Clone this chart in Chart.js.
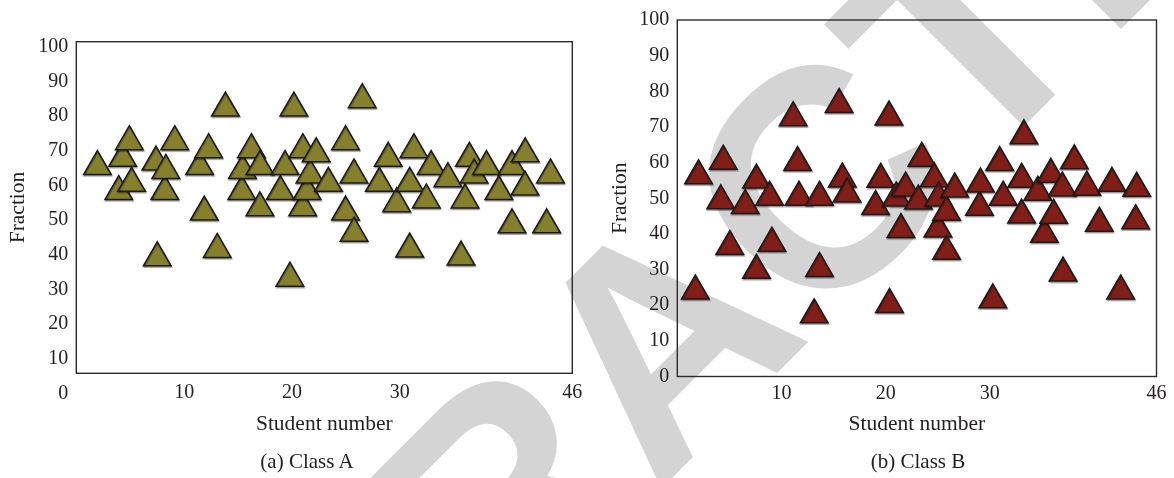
<!DOCTYPE html>
<html>
<head>
<meta charset="utf-8">
<script src="https://cdn.jsdelivr.net/npm/chart.js@4"></script>
<style>
  html, body { margin: 0; padding: 0; background: #ffffff; }
  #figure { position: relative; width: 1174px; height: 478px; overflow: hidden; background: #ffffff; }
  #figure canvas { position: absolute; top: 0; }
  #stamp { left: 0; }
  #chartA { left: 0; }
  #chartB { left: 590px; }
  .caption {
    position: absolute; top: 449px; width: 300px; text-align: center; line-height: 24px;
    font-family: "Liberation Serif", "Times New Roman", serif; font-size: 21px; color: #231f20;
  }
</style>
</head>
<body>
<div id="figure">
  <canvas id="stamp" width="1174" height="478"></canvas>
  <canvas id="chartA" width="590" height="440"></canvas>
  <canvas id="chartB" width="584" height="440"></canvas>
  <div class="caption" style="left:157px">(a) Class A</div>
  <div class="caption" style="left:768px">(b) Class B</div>
</div>
<script>
// Tick labels
const studentTicks = [10, 20, 30, 46];
const fractionTicks = [0, 10, 20, 30, 40, 50, 60, 70, 80, 90, 100];

// Class A: student number and fraction of each marker
const classAStudent = [1.96, 3.94, 4.30, 4.92, 5.13, 7.39, 7.51, 8.21, 8.30, 9.13,
  11.44, 11.87, 12.27, 13.07, 13.83, 15.35, 15.41, 16.24, 17.03, 17.03,
  18.93, 19.36, 19.81, 20.18, 21.01, 21.00, 21.40, 21.67, 22.25, 23.38,
  24.97, 24.97, 25.75, 25.76, 26.52, 28.11, 28.93, 29.71, 30.92, 30.92,
  31.31, 32.46, 32.91, 34.46, 35.68, 36.05, 36.46, 36.89, 38.04, 39.19,
  40.41, 40.41, 41.63, 41.61, 43.62, 43.98];
const classAFraction = [65.4, 58.2, 67.8, 72.6, 60.6, 66.7, 39.1, 58.2, 64.3, 72.6,
  65.4, 52.3, 70.3, 41.5, 82.3, 58.2, 64.3, 70.3, 65.4, 53.5,
  58.2, 65.4, 33.2, 82.3, 70.3, 53.5, 58.2, 63.0, 69.1, 60.6,
  72.6, 52.3, 63.0, 46.2, 84.7, 60.6, 67.8, 54.7, 60.6, 41.6,
  70.3, 55.8, 65.4, 61.9, 39.3, 55.8, 67.8, 63.0, 65.4, 58.2,
  65.4, 48.6, 69.1, 59.5, 48.6, 63.0];

// Class B: student number and fraction of each marker
const classBStudent = [1.73, 2.04, 4.17, 4.41, 5.04, 6.52, 7.60, 7.60, 8.86, 9.08,
  11.12, 11.55, 11.68, 13.14, 13.65, 13.65, 15.53, 15.84, 16.29, 19.03,
  19.53, 20.32, 20.37, 21.02, 21.47, 21.91, 23.14, 23.47, 24.66, 25.02,
  25.07, 25.85, 25.85, 26.63, 29.01, 29.10, 30.29, 30.95, 31.28, 33.06,
  33.05, 33.27, 34.61, 35.24, 35.86, 36.13, 36.96, 37.03, 38.11, 39.31,
  40.51, 41.72, 42.56, 44.00, 44.10];
const classBFraction = [24.0, 56.3, 49.3, 60.4, 36.5, 48.0, 55.1, 29.8, 50.3, 37.4,
  72.6, 60.0, 50.3, 17.3, 50.3, 30.3, 76.3, 55.4, 51.2, 47.7,
  55.3, 72.8, 20.2, 50.1, 41.2, 52.9, 49.2, 61.2, 55.5, 41.4,
  50.1, 46.1, 35.1, 52.6, 47.5, 54.0, 21.5, 60.0, 50.3, 55.3,
  45.3, 67.5, 51.7, 39.9, 56.7, 45.2, 52.9, 29.0, 60.5, 53.1,
  43.0, 54.2, 24.0, 43.7, 52.8];

const serif = '"Liberation Serif", "Times New Roman", serif';
const textColor = '#231f20';

// Large diagonal stamp lettering behind both panels
(function drawStamp() {
  const ctx = document.getElementById('stamp').getContext('2d');
  const word = 'RETRACTED';
  ctx.save();
  ctx.font = 'bold 310px "Liberation Sans", Arial, sans-serif';
  ctx.fillStyle = '#d4d4d4';
  ctx.translate(735, 415);
  ctx.rotate(-Math.PI / 4);
  const lead = ctx.measureText('RETR').width + ctx.measureText('A').width / 2;
  ctx.fillText(word, -lead, 0);
  ctx.restore();
})();

// Thin box around the plotting area plus a soft shadow under the markers
const framePlugin = {
  id: 'frameBox',
  beforeDatasetsDraw(chart) {
    const {ctx, chartArea: a} = chart;
    ctx.save();
    ctx.strokeStyle = '#2b2b2b';
    ctx.lineWidth = 1.4;
    ctx.strokeRect(a.left, a.top, a.right - a.left, a.bottom - a.top);
    ctx.restore();
    ctx.save();
    ctx.shadowColor = 'rgba(0,0,0,0.30)';
    ctx.shadowOffsetX = 0.5;
    ctx.shadowOffsetY = 1.5;
    ctx.shadowBlur = 1;
  },
  afterDatasetsDraw(chart) {
    chart.ctx.restore();
  }
};

function buildChart(canvasId, xs, ys, fill, geo) {
  const points = xs.map((x, i) => ({x: x, y: ys[i]}));
  return new Chart(document.getElementById(canvasId), {
    type: 'scatter',
    data: {
      datasets: [{
        data: points,
        pointStyle: 'triangle',
        pointRadius: 16,
        pointHoverRadius: 16,
        backgroundColor: fill,
        borderColor: '#1a1a1a',
        borderWidth: 1.5
      }]
    },
    options: {
      responsive: false,
      animation: false,
      events: [],
      layout: {padding: geo.padding},
      plugins: {legend: {display: false}, tooltip: {enabled: false}},
      scales: {
        x: {
          type: 'linear',
          min: 0,
          max: 46,
          grid: {display: false, drawTicks: false},
          border: {display: false},
          afterBuildTicks: (s) => { s.ticks = studentTicks.map(v => ({value: v})); },
          afterFit: (s) => { s.height = geo.xHeight; },
          ticks: {
            autoSkip: false, maxRotation: 0, padding: geo.xPad,
            font: {family: serif, size: 20}, color: textColor,
            callback: (v) => String(v)
          },
          title: {
            display: true, text: 'Student number', color: textColor,
            font: {family: serif, size: 21.5}, padding: {top: 0, bottom: 3.2}
          }
        },
        y: {
          type: 'linear',
          min: geo.yMin,
          max: geo.yMax,
          grid: {display: false, drawTicks: false},
          border: {display: false},
          afterBuildTicks: (s) => { s.ticks = fractionTicks.map(v => ({value: v})); },
          afterFit: (s) => { s.width = geo.yWidth; },
          ticks: {
            autoSkip: false, padding: 8,
            font: {family: serif, size: 20}, color: textColor,
            callback: (v) => String(v)
          },
          title: {
            display: true, text: 'Fraction', color: textColor,
            font: {family: serif, size: 21.5}, padding: {top: 5.2, bottom: 0}
          }
        }
      }
    },
    plugins: [framePlugin]
  });
}

buildChart('chartA', classAStudent, classAFraction, '#86802c', {
  padding: {left: 0, top: 41.7, right: 11.3, bottom: 0},
  yWidth: 76.3, xHeight: 66.7, xPad: 7.7, yMin: 5.77, yMax: 101.44
});
buildChart('chartB', classBStudent, classBFraction, '#801e17', {
  padding: {left: 12, top: 14, right: 6.7, bottom: 0},
  yWidth: 75.3, xHeight: 63.5, xPad: 4.8, yMin: 0, yMax: 100
});
</script>
</body>
</html>
